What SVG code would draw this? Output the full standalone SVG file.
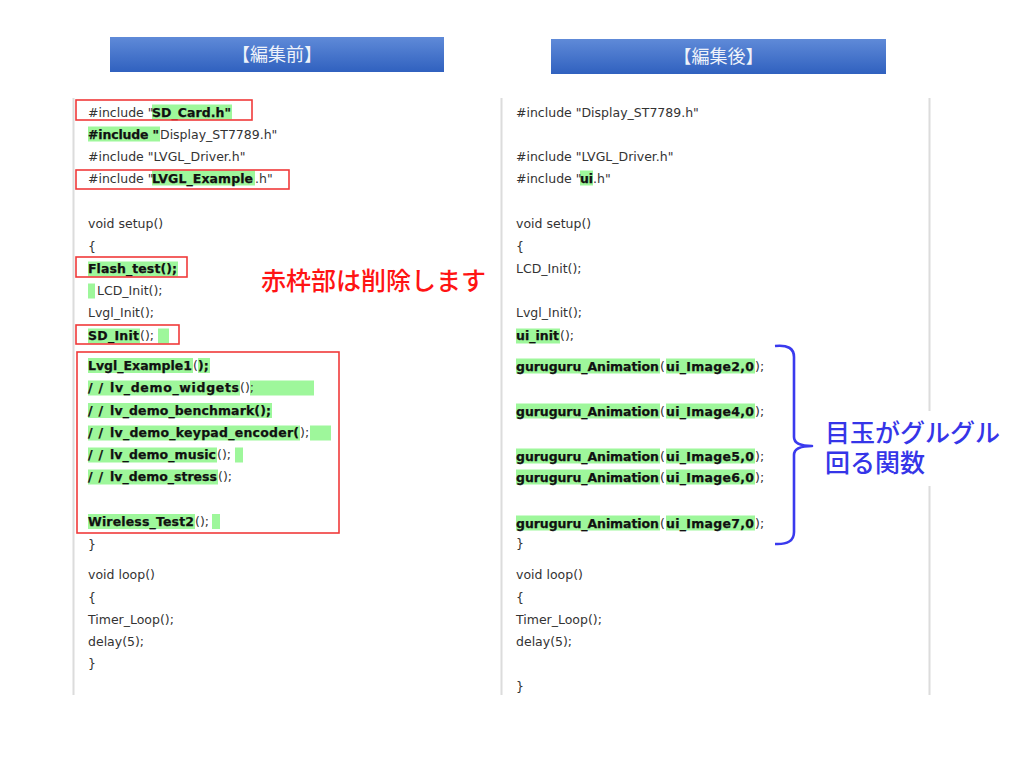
<svg xmlns="http://www.w3.org/2000/svg" width="1024" height="768" viewBox="0 0 1024 768">
<defs>
<linearGradient id="hdr" x1="0" y1="0" x2="0" y2="1">
<stop offset="0" stop-color="#5f8ad8"/>
<stop offset="1" stop-color="#3061bf"/>
</linearGradient>
</defs>
<style>
.c{font-family:"DejaVu Sans",Verdana,sans-serif;font-size:12.5px;fill:#333}
.b{font-family:"DejaVu Sans",Verdana,sans-serif;font-size:12.5px;font-weight:bold;fill:#111;stroke:#111;stroke-width:0.25}
.hl{fill:#9ef79b}
.rb{fill:none;stroke:#f03a3a;stroke-width:1.6}
.panel{stroke:#dcdcdc;stroke-width:2}
.hd{font-family:"Noto Sans CJK JP",sans-serif;font-size:18px;fill:#eef2fa;text-anchor:middle}
.red{font-family:"Noto Sans CJK JP",sans-serif;font-size:25px;font-weight:500;fill:#ff1414}
.blue{font-family:"Noto Sans CJK JP",sans-serif;font-size:25px;font-weight:500;fill:#3535e8}
</style>
<rect width="1024" height="768" fill="#fff"/>

<g id="panels">
<line class="panel" x1="73.5" y1="98" x2="73.5" y2="695"/>
<line class="panel" x1="501.5" y1="98" x2="501.5" y2="695"/>
<line class="panel" x1="929.5" y1="98" x2="929.5" y2="695"/>
</g>

<g id="header-before">
<rect x="110" y="37" width="334" height="35" fill="url(#hdr)"/>
<text class="hd" x="277" y="61">【編集前】</text>
</g>
<g id="header-after">
<rect x="551" y="39" width="335" height="35" fill="url(#hdr)"/>
<text class="hd" x="718.5" y="63">【編集後】</text>
</g>

<g id="highlights">
<rect class="hl" x="152" y="104.5" width="80" height="15"/>
<rect class="hl" x="88" y="126.5" width="72" height="15"/>
<rect class="hl" x="152" y="170.5" width="103" height="15"/>
<rect class="hl" x="88" y="261.5" width="90" height="15"/>
<rect class="hl" x="88" y="283.5" width="7" height="15"/>
<rect class="hl" x="88" y="328.5" width="52" height="15"/>
<rect class="hl" x="158" y="328.5" width="11" height="15"/>
<rect class="hl" x="88" y="358" width="105" height="15"/>
<rect class="hl" x="198" y="358" width="12" height="15"/>
<rect class="hl" x="88" y="380.5" width="152" height="15"/>
<rect class="hl" x="250" y="380.5" width="64" height="15"/>
<rect class="hl" x="88" y="403" width="184" height="15"/>
<rect class="hl" x="88" y="425.5" width="212" height="15"/>
<rect class="hl" x="310" y="425.5" width="21" height="15"/>
<rect class="hl" x="88" y="447.5" width="129" height="15"/>
<rect class="hl" x="235" y="447.5" width="8" height="15"/>
<rect class="hl" x="88" y="469.5" width="130" height="15"/>
<rect class="hl" x="88" y="514" width="107" height="15"/>
<rect class="hl" x="212" y="514" width="8" height="15"/>

<rect class="hl" x="580" y="170.5" width="13" height="15"/>
<rect class="hl" x="516" y="328.5" width="44" height="15"/>
<rect class="hl" x="516" y="358.5" width="144" height="15"/>
<rect class="hl" x="666" y="358.5" width="89" height="15"/>
<rect class="hl" x="516" y="403.5" width="144" height="15"/>
<rect class="hl" x="666" y="403.5" width="89" height="15"/>
<rect class="hl" x="516" y="448.5" width="144" height="15"/>
<rect class="hl" x="666" y="448.5" width="89" height="15"/>
<rect class="hl" x="516" y="469.5" width="144" height="15"/>
<rect class="hl" x="666" y="469.5" width="89" height="15"/>
<rect class="hl" x="516" y="515.5" width="144" height="15"/>
<rect class="hl" x="666" y="515.5" width="89" height="15"/>
</g>

<g id="code-before">
<text class="c" x="88" y="116.5">#include "</text><text class="b" x="152" y="116.5" textLength="79" lengthAdjust="spacing">SD_Card.h"</text>
<text class="b" x="88" y="138.5" textLength="71" lengthAdjust="spacing">#include "</text><text class="c" x="160" y="138.5">Display_ST7789.h"</text>
<text class="c" x="88" y="161">#include "LVGL_Driver.h"</text>
<text class="c" x="88" y="182.5">#include "</text><text class="b" x="152" y="182.5" textLength="101" lengthAdjust="spacing">LVGL_Example</text><text class="c" x="255" y="182.5">.h"</text>
<text class="c" x="88" y="228">void setup()</text>
<text class="c" x="88" y="251">{</text>
<text class="b" x="88" y="273" textLength="89" lengthAdjust="spacing">Flash_test();</text>
<text class="c" x="97" y="295">LCD_Init();</text>
<text class="c" x="88" y="317">Lvgl_Init();</text>
<text class="b" x="88" y="340" textLength="51" lengthAdjust="spacing">SD_Init</text><text class="c" x="140" y="340">();</text>
<text class="b" x="88" y="370" textLength="104" lengthAdjust="spacing">Lvgl_Example1</text><text class="c" x="193" y="370">(</text><text class="b" x="198" y="370">);</text>
<text class="b" x="88" y="392" textLength="15" lengthAdjust="spacing">//</text><text class="b" x="110" y="392" textLength="129" lengthAdjust="spacing">lv_demo_widgets</text><text class="c" x="240" y="392">();</text>
<text class="b" x="88" y="414.5" textLength="15" lengthAdjust="spacing">//</text><text class="b" x="110" y="414.5" textLength="161" lengthAdjust="spacing">lv_demo_benchmark();</text>
<text class="b" x="88" y="437" textLength="15" lengthAdjust="spacing">//</text><text class="b" x="110" y="437" textLength="189" lengthAdjust="spacing">lv_demo_keypad_encoder(</text><text class="c" x="300" y="437">);</text>
<text class="b" x="88" y="459" textLength="15" lengthAdjust="spacing">//</text><text class="b" x="110" y="459" textLength="106" lengthAdjust="spacing">lv_demo_music</text><text class="c" x="217" y="459">();</text>
<text class="b" x="88" y="481" textLength="15" lengthAdjust="spacing">//</text><text class="b" x="110" y="481" textLength="107" lengthAdjust="spacing">lv_demo_stress</text><text class="c" x="218" y="481">();</text>
<text class="b" x="88" y="525.5" textLength="106" lengthAdjust="spacing">Wireless_Test2</text><text class="c" x="195" y="525.5">();</text>
<text class="c" x="88" y="549">}</text>
<text class="c" x="88" y="578.5">void loop()</text>
<text class="c" x="88" y="602">{</text>
<text class="c" x="88" y="623.5">Timer_Loop();</text>
<text class="c" x="88" y="646">delay(5);</text>
<text class="c" x="88" y="667.5">}</text>
</g>

<g id="red-boxes">
<rect class="rb" x="76" y="100" width="176" height="20"/>
<rect class="rb" x="76" y="170" width="213" height="19"/>
<rect class="rb" x="76" y="257" width="111" height="20"/>
<rect class="rb" x="76" y="325" width="103" height="19"/>
<rect class="rb" x="77" y="352" width="262" height="181"/>
</g>

<g id="note-delete">
<text class="red" x="261" y="289.5">赤枠部は削除します</text>
</g>

<g id="code-after">
<text class="c" x="516" y="116.5">#include "Display_ST7789.h"</text>
<text class="c" x="516" y="161">#include "LVGL_Driver.h"</text>
<text class="c" x="516" y="182.5">#include "</text><text class="b" x="580" y="182.5" textLength="13" lengthAdjust="spacing">ui</text><text class="c" x="593" y="182.5">.h"</text>
<text class="c" x="516" y="228">void setup()</text>
<text class="c" x="516" y="251">{</text>
<text class="c" x="516" y="273">LCD_Init();</text>
<text class="c" x="516" y="317">Lvgl_Init();</text>
<text class="b" x="516" y="340" textLength="43" lengthAdjust="spacing">ui_init</text><text class="c" x="560" y="340">();</text>
<text class="b" x="516" y="370.5" textLength="143" lengthAdjust="spacing">guruguru_Animation</text><text class="c" x="660" y="370.5">(</text><text class="b" x="666" y="370.5" textLength="88" lengthAdjust="spacing">ui_Image2,0</text><text class="c" x="755" y="370.5">);</text>
<text class="b" x="516" y="415.5" textLength="143" lengthAdjust="spacing">guruguru_Animation</text><text class="c" x="660" y="415.5">(</text><text class="b" x="666" y="415.5" textLength="88" lengthAdjust="spacing">ui_Image4,0</text><text class="c" x="755" y="415.5">);</text>
<text class="b" x="516" y="460.5" textLength="143" lengthAdjust="spacing">guruguru_Animation</text><text class="c" x="660" y="460.5">(</text><text class="b" x="666" y="460.5" textLength="88" lengthAdjust="spacing">ui_Image5,0</text><text class="c" x="755" y="460.5">);</text>
<text class="b" x="516" y="481.5" textLength="143" lengthAdjust="spacing">guruguru_Animation</text><text class="c" x="660" y="481.5">(</text><text class="b" x="666" y="481.5" textLength="88" lengthAdjust="spacing">ui_Image6,0</text><text class="c" x="755" y="481.5">);</text>
<text class="b" x="516" y="527.5" textLength="143" lengthAdjust="spacing">guruguru_Animation</text><text class="c" x="660" y="527.5">(</text><text class="b" x="666" y="527.5" textLength="88" lengthAdjust="spacing">ui_Image7,0</text><text class="c" x="755" y="527.5">);</text>
<text class="c" x="516" y="548">}</text>
<text class="c" x="516" y="578.5">void loop()</text>
<text class="c" x="516" y="602">{</text>
<text class="c" x="516" y="623.5">Timer_Loop();</text>
<text class="c" x="516" y="645.5">delay(5);</text>
<text class="c" x="516" y="691">}</text>
</g>

<g id="brace">
<path d="M775,346 Q794,344 794,357 L794,437 Q794,446 812,446 Q794,446 794,455 L794,532 Q794,545 775,544" fill="none" stroke="#3a3aee" stroke-width="2.6" stroke-linejoin="round"/>
</g>

<g id="note-function">
<rect x="815" y="411" width="190" height="75" fill="#fff"/>
<text class="blue"><tspan x="825" y="442">目玉がグルグル</tspan><tspan x="825" y="472">回る関数</tspan></text>
</g>
</svg>
